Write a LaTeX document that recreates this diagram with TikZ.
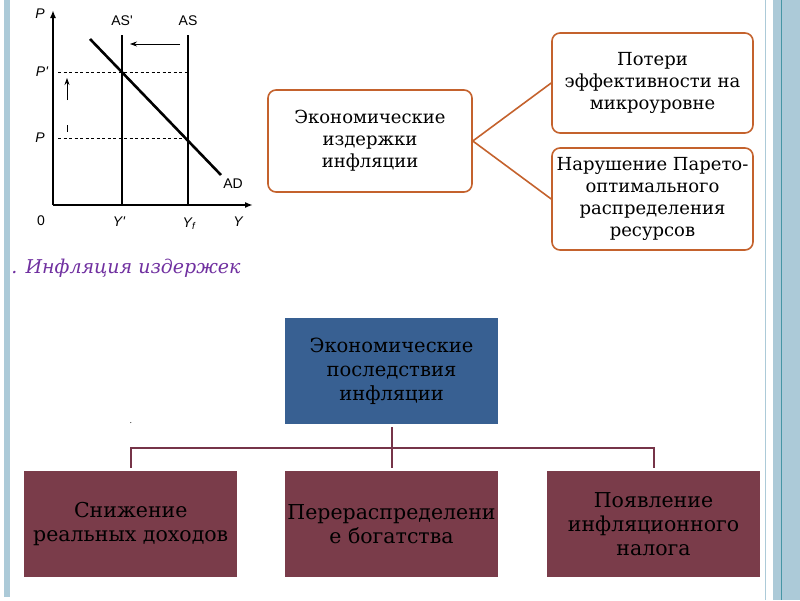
\documentclass[tikz,border=0pt]{standalone}
\usepackage{fontspec}
\setmainfont{DejaVu Serif}
\newfontfamily\graphfont{Liberation Sans}
\usetikzlibrary{arrows.meta}

\definecolor{stripblue}{RGB}{172,202,216}
\definecolor{stripteal}{RGB}{70,150,165}
\definecolor{costorange}{RGB}{196,98,45}
\definecolor{effectblue}{RGB}{56,96,146}
\definecolor{effectmaroon}{RGB}{122,60,74}
\definecolor{treemaroon}{RGB}{118,52,72}
\definecolor{captionpurple}{RGB}{112,48,160}

\tikzset{
  costbox/.style={draw=costorange, line width=1.6pt, rounded corners=8pt,
    fill=white, align=center, inner sep=0pt,
    font=\fontsize{18}{22}\selectfont},
  headbox/.style={fill=effectblue, align=center, inner sep=0pt,
    minimum width=213pt, minimum height=106pt,
    font=\fontsize{19.5}{24}\selectfont},
  effectbox/.style={fill=effectmaroon, align=center, inner sep=0pt,
    minimum width=213pt, minimum height=106pt,
    font=\fontsize{20.5}{24}\selectfont},
  treeline/.style={draw=treemaroon, line width=2pt,
    shorten <=3pt, shorten >=3pt},
  curve/.style={line width=2.6pt},
  axisline/.style={line width=1.6pt, -{Latex[length=8pt,width=6pt]}},
  guide/.style={line width=0.7pt, dash pattern=on 3pt off 2.5pt},
  shiftarrow/.style={line width=0.8pt, -{Stealth[length=7pt,width=5pt]}},
  glabel/.style={font=\graphfont\fontsize{14}{14}\selectfont, inner sep=0pt}
}

\begin{document}
\begin{tikzpicture}[x=1pt, y=-1pt]
\useasboundingbox (0,0) rectangle (800,600);

% slide frame
\fill[stripblue] (4,0) rectangle (10,597);
\fill[stripblue] (773,0) rectangle (800,600);
\draw[stripblue, line width=1.5pt] (765.5,0) -- (765.5,600);
\draw[stripteal, line width=1pt] (781,0) -- (781,600);

% graph: cost-push inflation
\coordinate (O) at (53,205);
\draw[axisline] (O) -- (53,10);
\draw[axisline] (O) -- (253,205);
\draw[guide] (58,72) -- (188,72);
\draw[guide] (58,138) -- (188,138);
\draw[curve] (122,35) -- (122,205);
\draw[curve] (188,35) -- (188,205);
\draw[curve] (90,39) -- (221,175);
\draw[shiftarrow] (180,44) -- (130,44);
\draw[shiftarrow] (67,100) -- (67,78);
\draw[line width=0.8pt] (67,125) -- (67,132);

\node[glabel] (pax) at (40,14) {\itshape P};
\node[glabel] (pnew) at (42,72) {\itshape P'};
\node[glabel] (pold) at (40,138) {\itshape P};
\node[glabel] (zero) at (41,221) {0};
\node[glabel] (ynew) at (119,222) {\itshape Y'};
\node[glabel] (yfull) at (189,224) {\itshape Y\textsubscript{\itshape f}};
\node[glabel] (yax) at (238,222) {\itshape Y};
\node[glabel] (asnew) at (122,21) {AS'};
\node[glabel] (asold) at (188,21) {AS};
\node[glabel] (ad) at (233,184) {AD};

\node[text=captionpurple, font=\itshape\fontsize{19}{19}\selectfont, inner sep=0pt]
  (caption) at (126,268) {. Инфляция издержек};

% costs of inflation
\node[costbox, minimum width=204pt, minimum height=102pt] (costs) at (370,141)
  {Экономические\\издержки\\инфляции};
\node[costbox, minimum width=201pt, minimum height=100pt] (loss) at (652.5,83)
  {Потери\\эффективности на\\микроуровне};
\node[costbox, minimum width=201pt, minimum height=102pt] (pareto) at (652.5,199)
  {Нарушение Парето-\\оптимального\\распределения\\ресурсов};
\draw[costorange, line width=1.6pt] (costs.east) -- (loss.west);
\draw[costorange, line width=1.6pt] (costs.east) -- (pareto.west);

% consequences of inflation
\node[headbox] (effects) at (391.5,371)
  {Экономические\\последствия\\инфляции};
\node[effectbox] (income) at (130.75,524) {Снижение\\реальных доходов};
\node[effectbox] (wealth) at (391.5,524) {Перераспределени\\е богатства};
\node[effectbox] (tax) at (653.5,524) {Появление\\инфляционного\\налога};
\node[inner sep=0pt, font=\fontsize{8}{8}\selectfont] (dot) at (131,423) {.};

\draw[treeline] (effects.south) -- (wealth.north);
\draw[treeline] (income.north) -- ++(0,-23) -| (tax.north);
\end{tikzpicture}
\end{document}
